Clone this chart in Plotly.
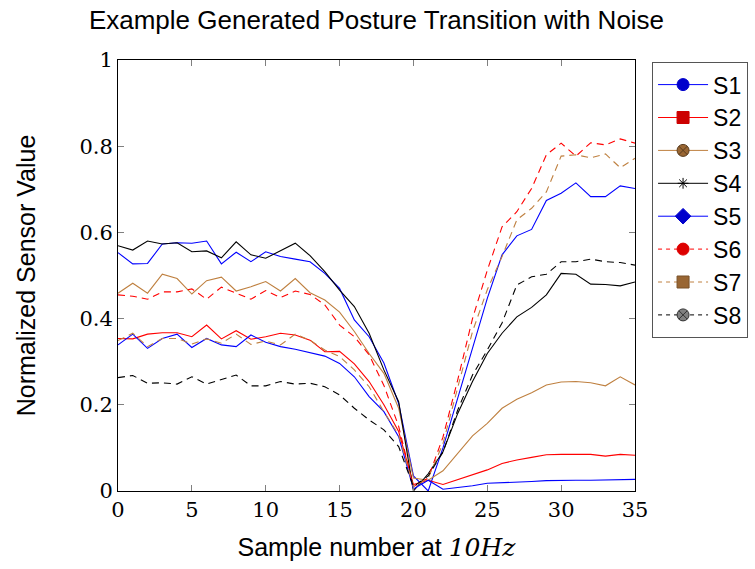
import plotly.graph_objects as go

samples = list(range(36))

s1 = [0.553, 0.527, 0.528, 0.573, 0.576, 0.575, 0.580, 0.527, 0.554, 0.532, 0.555, 0.544, 0.538, 0.532, 0.505, 0.470, 0.397, 0.358, 0.297, 0.203, 0.035, 0.0, 0.100, 0.216, 0.330, 0.447, 0.548, 0.592, 0.607, 0.674, 0.691, 0.715, 0.683, 0.683, 0.708, 0.702]
s2 = [0.354, 0.353, 0.364, 0.367, 0.367, 0.358, 0.385, 0.353, 0.372, 0.352, 0.358, 0.366, 0.362, 0.350, 0.323, 0.324, 0.295, 0.254, 0.200, 0.138, 0.015, 0.025, 0.015, 0.026, 0.037, 0.049, 0.064, 0.072, 0.078, 0.084, 0.085, 0.085, 0.085, 0.081, 0.085, 0.083]
s3 = [0.459, 0.482, 0.459, 0.503, 0.493, 0.457, 0.488, 0.496, 0.464, 0.474, 0.486, 0.464, 0.493, 0.460, 0.443, 0.415, 0.370, 0.319, 0.273, 0.192, 0.030, 0.025, 0.047, 0.087, 0.128, 0.157, 0.192, 0.213, 0.228, 0.246, 0.253, 0.254, 0.251, 0.244, 0.265, 0.246]
s4 = [0.569, 0.559, 0.580, 0.573, 0.576, 0.555, 0.557, 0.541, 0.578, 0.548, 0.540, 0.557, 0.575, 0.546, 0.509, 0.466, 0.428, 0.366, 0.281, 0.207, 0.0, 0.040, 0.091, 0.180, 0.254, 0.319, 0.366, 0.404, 0.426, 0.455, 0.505, 0.503, 0.480, 0.479, 0.476, 0.485]
s5 = [0.339, 0.364, 0.331, 0.354, 0.364, 0.333, 0.354, 0.339, 0.335, 0.362, 0.345, 0.335, 0.329, 0.321, 0.313, 0.296, 0.265, 0.219, 0.184, 0.126, 0.005, 0.025, 0.004, 0.008, 0.012, 0.018, 0.019, 0.021, 0.022, 0.024, 0.025, 0.025, 0.025, 0.026, 0.027, 0.027]
s6 = [0.455, 0.452, 0.445, 0.462, 0.462, 0.469, 0.445, 0.473, 0.459, 0.445, 0.465, 0.449, 0.464, 0.456, 0.432, 0.385, 0.358, 0.316, 0.245, 0.150, 0.010, 0.030, 0.125, 0.258, 0.400, 0.512, 0.613, 0.648, 0.702, 0.780, 0.807, 0.777, 0.808, 0.803, 0.817, 0.807]
s7 = [0.349, 0.366, 0.335, 0.354, 0.354, 0.341, 0.353, 0.343, 0.364, 0.340, 0.348, 0.339, 0.364, 0.350, 0.327, 0.312, 0.281, 0.242, 0.184, 0.130, 0.010, 0.030, 0.110, 0.240, 0.370, 0.467, 0.544, 0.629, 0.656, 0.694, 0.777, 0.780, 0.773, 0.782, 0.750, 0.772]
s8 = [0.263, 0.268, 0.250, 0.251, 0.248, 0.265, 0.248, 0.258, 0.269, 0.244, 0.244, 0.254, 0.248, 0.250, 0.242, 0.223, 0.192, 0.165, 0.142, 0.103, 0.010, 0.035, 0.090, 0.188, 0.269, 0.327, 0.390, 0.478, 0.497, 0.503, 0.532, 0.532, 0.538, 0.532, 0.530, 0.524]

names = ["S1", "S2", "S3", "S4", "S5", "S6", "S7", "S8"]
series = [s1, s2, s3, s4, s5, s6, s7, s8]

x_ticks = [0, 5, 10, 15, 20, 25, 30, 35]
y_ticks = [0, 0.2, 0.4, 0.6, 0.8, 1]
y_tick_text = ["0", "0.2", "0.4", "0.6", "0.8", "1"]

BLUE = "#0000ff"
RED = "#ff0000"
BROWN = "rgb(191,128,64)"
BLACK = "#000000"
DASH = "7px,5px"

styles = [
    dict(color=BLUE, dash="solid", symbol="circle", mfill="#0000cc", mline="#0000cc"),
    dict(color=RED, dash="solid", symbol="square", mfill="#cc0000", mline="#cc0000"),
    dict(color=BROWN, dash="solid", symbol="circle-x", mfill="rgb(153,102,51)", mline="rgb(90,60,30)"),
    dict(color=BLACK, dash="solid", symbol="asterisk-open", mfill="#000000", mline="#000000"),
    dict(color=BLUE, dash="solid", symbol="diamond", mfill="#0000cc", mline="#0000cc"),
    dict(color=RED, dash=DASH, symbol="circle", mfill="#dd0000", mline="#dd0000"),
    dict(color=BROWN, dash=DASH, symbol="square", mfill="rgb(153,102,51)", mline="rgb(120,80,40)"),
    dict(color=BLACK, dash=DASH, symbol="circle-x", mfill="#808080", mline="#333333"),
]

fig = go.Figure()

# data lines (no markers in the plot)
for name, ys, st in zip(names, series, styles):
    fig.add_trace(go.Scatter(
        x=samples, y=ys, mode="lines", name=name, showlegend=False,
        line=dict(color=st["color"], width=1.1, dash=st["dash"]),
    ))

# legend entries (line + marker)
for name, st in zip(names, styles):
    fig.add_trace(go.Scatter(
        x=[None], y=[None], mode="lines+markers", name=name,
        line=dict(color=st["color"], width=1, dash=("4px,4px" if st["dash"] != "solid" else "solid")),
        marker=dict(symbol=st["symbol"], size=12 if st["symbol"] != "asterisk-open" else 9,
                    color=st["mfill"], line=dict(color=st["mline"], width=1)),
    ))

fig.update_layout(
    width=755, height=569,
    margin=dict(l=118, r=120, t=60, b=78, autoexpand=False),
    paper_bgcolor="white", plot_bgcolor="white",
    title=dict(text="Example Generated Posture Transition with Noise",
               x=0.5, xref="paper", y=1 - 20 / 569, yref="container", yanchor="middle",
               font=dict(family="Liberation Sans", size=26, color="black")),
    font=dict(family="Liberation Sans", color="black"),
    legend=dict(x=1.033, y=0.995, xanchor="left", yanchor="top",
                bordercolor="#555555", borderwidth=1, bgcolor="white",
                font=dict(family="Liberation Sans", size=23, color="black"),
                itemwidth=50, tracegroupgap=0),
    showlegend=True,
)

fig.update_xaxes(
    range=[0, 35], tickvals=x_ticks, ticktext=[str(v) for v in x_ticks],
    showgrid=False, zeroline=False,
    showline=True, linecolor="black", linewidth=1, mirror="ticks",
    ticks="inside", ticklen=6, tickcolor="#808080",
    tickfont=dict(family="DejaVu Serif", size=21, color="black"),
    title=dict(text="Sample number at <span style='font-family:DejaVu Serif'><i>10Hz</i></span>",
               font=dict(family="Liberation Sans", size=25, color="black"), standoff=17),
)
fig.update_yaxes(
    range=[0, 1], tickvals=y_ticks, ticktext=y_tick_text,
    showgrid=False, zeroline=False,
    showline=True, linecolor="black", linewidth=1, mirror="ticks",
    ticks="inside", ticklen=6, tickcolor="#808080",
    tickfont=dict(family="DejaVu Serif", size=21, color="black"),
    title=dict(text="Normalized Sensor Value",
               font=dict(family="Liberation Sans", size=25, color="black"), standoff=36),
)

fig.write_html("out.html")
